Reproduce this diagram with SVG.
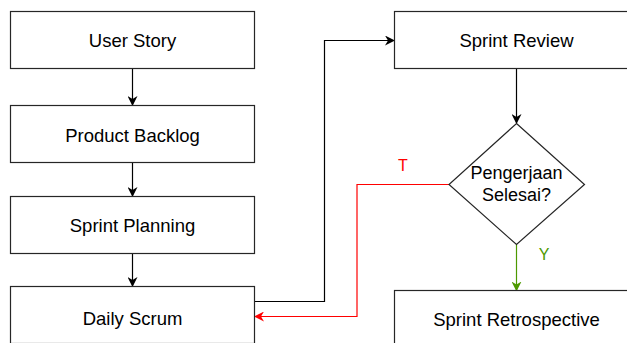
<svg xmlns="http://www.w3.org/2000/svg" width="627" height="343" viewBox="0 0 627 343">
  <style>
    .box { fill: #ffffff; stroke: #262626; stroke-width: 1.2; }
    .lbl { font-family: "Liberation Sans", Arial, sans-serif; font-size: 18.5px; fill: #000000; text-anchor: middle; }
    .edge { fill: none; stroke: #000000; stroke-width: 1.2; }
    .edge-no { fill: none; stroke: #ff0000; stroke-width: 1.2; }
    .edge-yes { fill: none; stroke: #4d9900; stroke-width: 1.2; }
    .tag { font-family: "Liberation Sans", Arial, sans-serif; font-size: 16px; text-anchor: middle; }
  </style>
  <defs>
    <marker id="arr" viewBox="0 0 10 10" refX="9" refY="5" markerWidth="10" markerHeight="10" markerUnits="userSpaceOnUse" orient="auto">
      <path d="M0,0 L10,5 L0,10 L3,5 Z" fill="#000000"/>
    </marker>
    <marker id="arr-red" viewBox="0 0 10 10" refX="9" refY="5" markerWidth="10" markerHeight="10" markerUnits="userSpaceOnUse" orient="auto">
      <path d="M0,0 L10,5 L0,10 L3,5 Z" fill="#ff0000"/>
    </marker>
    <marker id="arr-green" viewBox="0 0 10 10" refX="9" refY="5" markerWidth="10" markerHeight="10" markerUnits="userSpaceOnUse" orient="auto">
      <path d="M0,0 L10,5 L0,10 L3,5 Z" fill="#4d9900"/>
    </marker>
  </defs>

  <rect width="627" height="343" fill="#ffffff"/>

  <g id="connectors">
    <path class="edge" d="M132.5,68.5 V105" marker-end="url(#arr)"/>
    <path class="edge" d="M132.5,162.5 V196" marker-end="url(#arr)"/>
    <path class="edge" d="M132.5,253 V286" marker-end="url(#arr)"/>
    <path class="edge" d="M254.5,301.5 H324.5 V40.5 H394" marker-end="url(#arr)"/>
    <path class="edge" d="M516.5,68.5 V123" marker-end="url(#arr)"/>
    <path class="edge-no" d="M449,184.5 H357 V316.5 H255" marker-end="url(#arr-red)"/>
    <path class="edge-yes" d="M516.5,244.5 V290.5" marker-end="url(#arr-green)"/>
    <text class="tag" x="403" y="171" fill="#ff0000">T</text>
    <text class="tag" x="544" y="260" fill="#4d9900">Y</text>
  </g>

  <g id="user-story">
    <rect class="box" x="10.5" y="11.5" width="244" height="57"/>
    <text class="lbl" x="132.5" y="46.5">User Story</text>
  </g>

  <g id="product-backlog">
    <rect class="box" x="10.5" y="105.5" width="244" height="57"/>
    <text class="lbl" x="132.5" y="141.5">Product Backlog</text>
  </g>

  <g id="sprint-planning">
    <rect class="box" x="10.5" y="196.5" width="244" height="57"/>
    <text class="lbl" x="132.5" y="232">Sprint Planning</text>
  </g>

  <g id="daily-scrum">
    <rect class="box" x="10.5" y="286.5" width="244" height="57"/>
    <text class="lbl" x="132.5" y="324.5">Daily Scrum</text>
  </g>

  <g id="sprint-review">
    <rect class="box" x="394.5" y="11.5" width="244" height="57"/>
    <text class="lbl" x="516.5" y="46.5">Sprint Review</text>
  </g>

  <g id="pengerjaan-selesai">
    <path class="box" d="M516.5,123.5 L584.5,184.5 L516.5,244.5 L449,184.5 Z"/>
    <text class="lbl" x="516.5" y="179" style="font-size:18px">Pengerjaan</text>
    <text class="lbl" x="516.5" y="200.5" style="font-size:18px">Selesai?</text>
  </g>

  <g id="sprint-retrospective">
    <rect class="box" x="394.5" y="290.5" width="244" height="57"/>
    <text class="lbl" x="516.5" y="326">Sprint Retrospective</text>
  </g>
</svg>
